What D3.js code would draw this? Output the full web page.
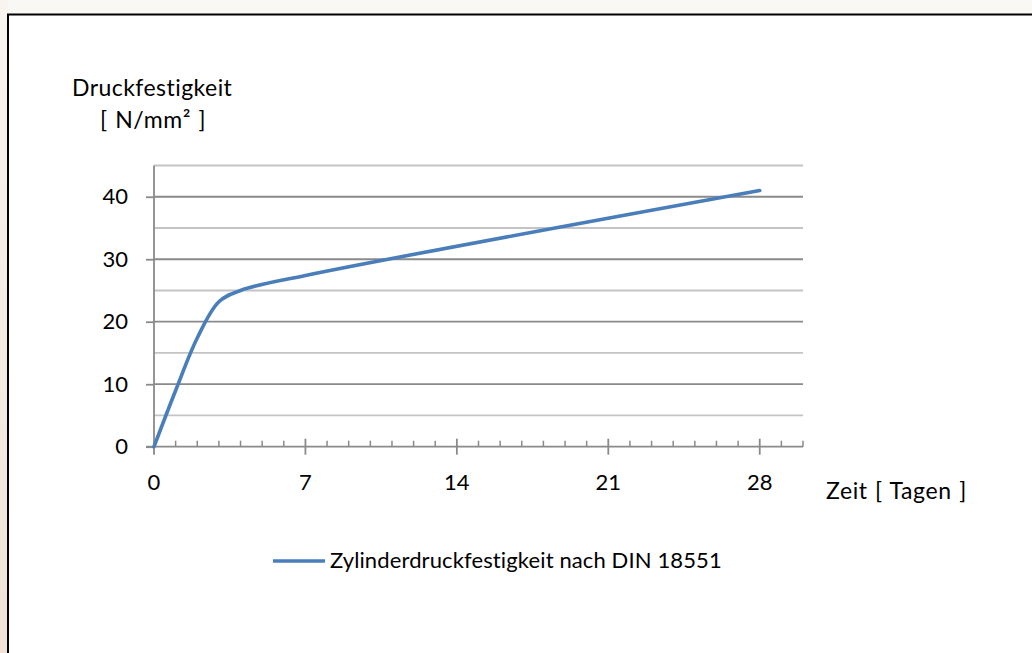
<!DOCTYPE html>
<html>
<head>
<meta charset="utf-8">
<script src="https://cdn.jsdelivr.net/npm/d3@7"></script>
<style>
  html, body { margin: 0; padding: 0; background: #faf7f3; }
  svg { display: block; }
  text { font-family: "Lato", "Open Sans", sans-serif; fill: #000; }
</style>
</head>
<body>
<svg id="chart" width="1032" height="653"></svg>
<script>
// ---- data ----
const days = [0, 1, 2, 3, 4, 7, 28];
const strength = [0, 9, 17.4, 23.2, 25, 27.4, 41];
const seriesName = "Zylinderdruckfestigkeit nach DIN 18551";
const xTicks = [0, 7, 14, 21, 28];
const yTicks = [0, 10, 20, 30, 40];
const yTitle = ["Druckfestigkeit", "[ N/mm² ]"];
const xTitle = "Zeit [ Tagen ]";

const svg = d3.select("#chart");

// background with beige left strip
const defs = svg.append("defs");
const grad = defs.append("linearGradient").attr("id", "strip").attr("x1", 0).attr("y1", 0).attr("x2", 0).attr("y2", 1);
grad.append("stop").attr("offset", "0%").attr("stop-color", "#f8f4f0");
grad.append("stop").attr("offset", "100%").attr("stop-color", "#f0e3d6");
svg.append("rect").attr("x", 0).attr("y", 0).attr("width", 1032).attr("height", 653).attr("fill", "#faf8f5");
svg.append("rect").attr("x", 0).attr("y", 0).attr("width", 8).attr("height", 653).attr("fill", "url(#strip)");

// chart frame
svg.append("rect").attr("x", 8).attr("y", 14.5).attr("width", 1040).attr("height", 660)
  .attr("fill", "#fff").attr("stroke", "#000").attr("stroke-width", 2);

const x = d3.scaleLinear().domain([0, 30]).range([154, 803]);
const y = d3.scaleLinear().domain([0, 45]).range([446.7, 165.5]);

// gridlines
const gridVals = d3.range(5, 46, 5);
svg.append("g").selectAll("line").data(gridVals).join("line")
  .attr("x1", x(0)).attr("x2", x(30))
  .attr("y1", d => y(d)).attr("y2", d => y(d))
  .attr("stroke", d => d % 10 === 0 ? "#8a8a8a" : "#c4c4c4")
  .attr("stroke-width", 1.8);

// y axis
const yAxis = d3.axisLeft(y).tickValues(yTicks).tickSize(8).tickPadding(18).tickFormat(d3.format("d"));
const gy = svg.append("g").attr("transform", `translate(${x(0)},0)`).call(yAxis);
gy.select(".domain").remove();
gy.selectAll(".tick line").attr("stroke", "#8a8a8a").attr("stroke-width", 1.8);
gy.selectAll(".tick text").style("font-size", "22px").style("font-family", "Lato").attr("fill", "#000");
svg.append("line").attr("x1", x(0)).attr("x2", x(0)).attr("y1", y(45)).attr("y2", y(0))
  .attr("stroke", "#8a8a8a").attr("stroke-width", 1.8);

// x axis: minor ticks every day (upward), major every 7 (crossing)
const gx = svg.append("g").attr("transform", `translate(0,${y(0)})`);
gx.append("line").attr("x1", x(0) - 8).attr("x2", x(30)).attr("y1", 0).attr("y2", 0)
  .attr("stroke", "#8a8a8a").attr("stroke-width", 1.8);
const minor = d3.range(1, 31).filter(d => d % 7 !== 0);
gx.selectAll("line.minor").data(minor).join("line").attr("class", "minor")
  .attr("x1", d => x(d)).attr("x2", d => x(d)).attr("y1", -6).attr("y2", 0)
  .attr("stroke", "#8a8a8a").attr("stroke-width", 1.5);
gx.selectAll("line.major").data(xTicks).join("line").attr("class", "major")
  .attr("x1", d => x(d)).attr("x2", d => x(d)).attr("y1", d => d === 0 ? 0 : -8).attr("y2", 8)
  .attr("stroke", "#8a8a8a").attr("stroke-width", 1.8);
gx.selectAll("text").data(xTicks).join("text")
  .attr("x", d => x(d)).attr("y", 43).attr("text-anchor", "middle")
  .style("font-size", "22px").text(d => d);

// axis titles
svg.append("text").attr("x", 72).attr("y", 96).style("font-size", "23px").style("letter-spacing", "0.45px").text(yTitle[0]);
svg.append("text").attr("x", 100).attr("y", 128).style("font-size", "23px").style("letter-spacing", "0.6px").style("word-spacing", "1px").text(yTitle[1]);
svg.append("text").attr("x", 826).attr("y", 499).style("font-size", "23px").style("letter-spacing", "0.6px").style("word-spacing", "1px").text(xTitle);

// series line
const pts = days.map((d, i) => [d, strength[i]]);
const line = d3.line().x(d => x(d[0])).y(d => y(d[1])).curve(d3.curveCatmullRom.alpha(0.5));
svg.append("path").datum(pts).attr("d", line)
  .attr("fill", "none").attr("stroke", "#4a7ebb").attr("stroke-width", 3.6)
  .attr("stroke-linecap", "round").attr("stroke-linejoin", "round");

// legend
const lg = svg.append("g");
lg.append("line").attr("x1", 273).attr("x2", 325).attr("y1", 561).attr("y2", 561)
  .attr("stroke", "#4a7ebb").attr("stroke-width", 3.6);
lg.append("text").attr("x", 330).attr("y", 568).style("font-size", "22px").style("letter-spacing", "0.12px").text(seriesName);
</script>
</body>
</html>
